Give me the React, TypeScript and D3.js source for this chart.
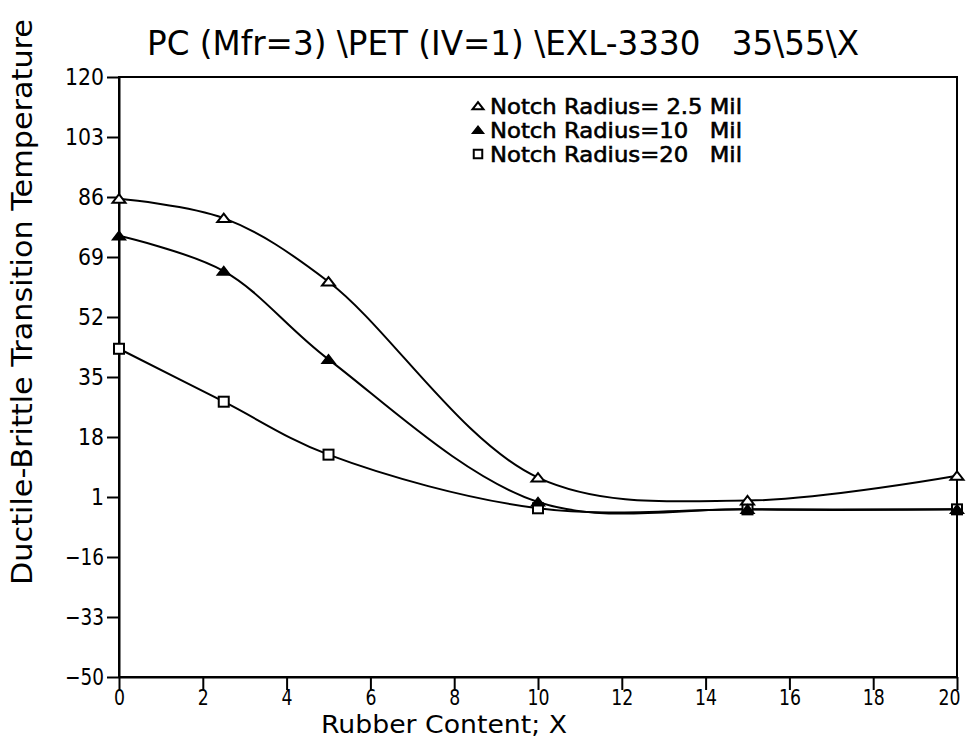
import * as d3 from 'd3'
import { useEffect, useRef } from 'react'

// rubber content (x) and ductile-brittle transition temperature per notch radius
const rubber = [0, 2.5, 5, 10, 15, 20]
const notch25 = [85.5, 80, 62, 6.5, 0, 7]
const notch10 = [75, 65, 40, -0.4, -2.5, -2.5]
const notch20 = [43, 28, 13, -2.2, -2.5, -2.5]

const xTicks = [0, 2, 4, 6, 8, 10, 12, 14, 16, 18, 20]
const yTicks = [-50, -33, -16, 1, 18, 35, 52, 69, 86, 103, 120]

const legendLabels = ['Notch Radius= 2.5 Mil', 'Notch Radius=10   Mil', 'Notch Radius=20   Mil']

const FONT = "'DejaVu Sans', sans-serif"

export default function App() {
  const ref = useRef<SVGSVGElement>(null)

  useEffect(() => {
    const svg = d3.select(ref.current)
    svg.selectAll('*').remove()

    const margin = { top: 77, right: 9, bottom: 63, left: 119 }
    const width = 966
    const height = 740

    const x = d3.scaleLinear().domain([0, 20]).range([margin.left, width - margin.right])
    const y = d3.scaleLinear().domain([-50, 120]).range([height - margin.bottom, margin.top])

    // frame
    svg.append('rect')
      .attr('x', x(0)).attr('y', y(120))
      .attr('width', x(20) - x(0)).attr('height', y(-50) - y(120))
      .attr('fill', 'none').attr('stroke', '#000').attr('stroke-width', 2)

    const yAxis = svg.append('g')
      .attr('transform', `translate(${x(0)},0)`)
      .call(d3.axisLeft(y).tickValues(yTicks).tickSize(12).tickSizeOuter(0).tickPadding(3))
    yAxis.select('.domain').attr('stroke-width', 2)
    yAxis.selectAll('.tick line').attr('stroke-width', 2)
    yAxis.selectAll<SVGTextElement, number>('.tick text')
      .attr('font-family', FONT).attr('font-size', 23).attr('fill', '#000')
      .attr('textLength', (d) => String(d).length * 13)
      .attr('lengthAdjust', 'spacingAndGlyphs')

    const xAxis = svg.append('g')
      .attr('transform', `translate(0,${y(-50)})`)
      .call(d3.axisBottom(x).tickValues(xTicks).tickSize(13).tickSizeOuter(0).tickPadding(0))
    xAxis.select('.domain').attr('stroke-width', 2)
    xAxis.selectAll('.tick line').attr('stroke-width', 2)
    xAxis.selectAll<SVGTextElement, number>('.tick text')
      .attr('font-family', FONT).attr('font-size', 21).attr('fill', '#000')
      .attr('textLength', (d) => String(d).length * 11)
      .attr('lengthAdjust', 'spacingAndGlyphs')
      .attr('dx', (d) => (d === 20 ? -8 : 0))

    // titles
    svg.append('text')
      .attr('x', 147).attr('y', 55)
      .attr('font-family', FONT).attr('font-size', 33)
      .attr('textLength', 712).attr('lengthAdjust', 'spacingAndGlyphs')
      .style('white-space', 'pre')
      .text('PC (Mfr=3) \\PET (IV=1) \\EXL-3330   35\\55\\X')

    svg.append('text')
      .attr('x', 444).attr('y', 733)
      .attr('text-anchor', 'middle')
      .attr('font-family', FONT).attr('font-size', 24)
      .attr('textLength', 246).attr('lengthAdjust', 'spacingAndGlyphs')
      .text('Rubber Content; X')

    svg.append('text')
      .attr('transform', 'translate(32,302) rotate(-90)')
      .attr('text-anchor', 'middle')
      .attr('font-family', FONT).attr('font-size', 28)
      .attr('textLength', 566).attr('lengthAdjust', 'spacingAndGlyphs')
      .text('Ductile-Brittle Transition Temperature')

    const line = d3.line<number>()
      .x((_, i) => x(rubber[i]))
      .y((d) => y(d))
      .curve(d3.curveCatmullRom.alpha(0.5))

    const series = [notch25, notch10, notch20]
    svg.append('g').selectAll('path')
      .data(series)
      .join('path')
      .attr('d', (d) => line(d))
      .attr('fill', 'none')
      .attr('stroke', '#000')
      .attr('stroke-width', 2)

    const tri = (cx: number, cy: number, s: number) =>
      `M${cx - s},${cy + s * 0.6}L${cx + s},${cy + s * 0.6}L${cx},${cy - s * 0.7}Z`

    const drawMarker = (g: d3.Selection<SVGGElement, unknown, null, undefined>, kind: number, cx: number, cy: number, s = 1) => {
      if (kind === 0) {
        g.append('path').attr('d', tri(cx, cy, 6.5 * s)).attr('fill', '#fff').attr('stroke', '#000').attr('stroke-width', 2)
      } else if (kind === 1) {
        g.append('path').attr('d', tri(cx, cy, 6.5 * s)).attr('fill', '#000').attr('stroke', '#000').attr('stroke-width', 1.5)
      } else {
        g.append('rect').attr('x', cx - 5 * s).attr('y', cy - 5 * s).attr('width', 10 * s).attr('height', 10 * s)
          .attr('fill', '#fff').attr('stroke', '#000').attr('stroke-width', 2)
      }
    }

    const marks = svg.append('g')
    // squares first so the triangles sit on top as in the original
    ;[2, 0, 1].forEach((k) => {
      series[k].forEach((v, i) => drawMarker(marks, k, x(rubber[i]), y(v)))
    })

    // legend
    const legend = svg.append('g')
    legendLabels.forEach((label, i) => {
      const cy = 106 + i * 24
      drawMarker(legend, i, 478, cy, 0.85)
      legend.append('text')
        .attr('x', 490).attr('y', cy + 8)
        .attr('font-family', FONT).attr('font-size', 21)
        .attr('stroke', '#000').attr('stroke-width', 0.6)
        .attr('textLength', 252).attr('lengthAdjust', 'spacingAndGlyphs')
        .style('white-space', 'pre')
        .text(label)
    })
  }, [])

  return (
    <svg
      ref={ref}
      width={966}
      height={740}
      style={{ position: 'absolute', left: 0, top: 0, background: '#fff' }}
    />
  )
}
